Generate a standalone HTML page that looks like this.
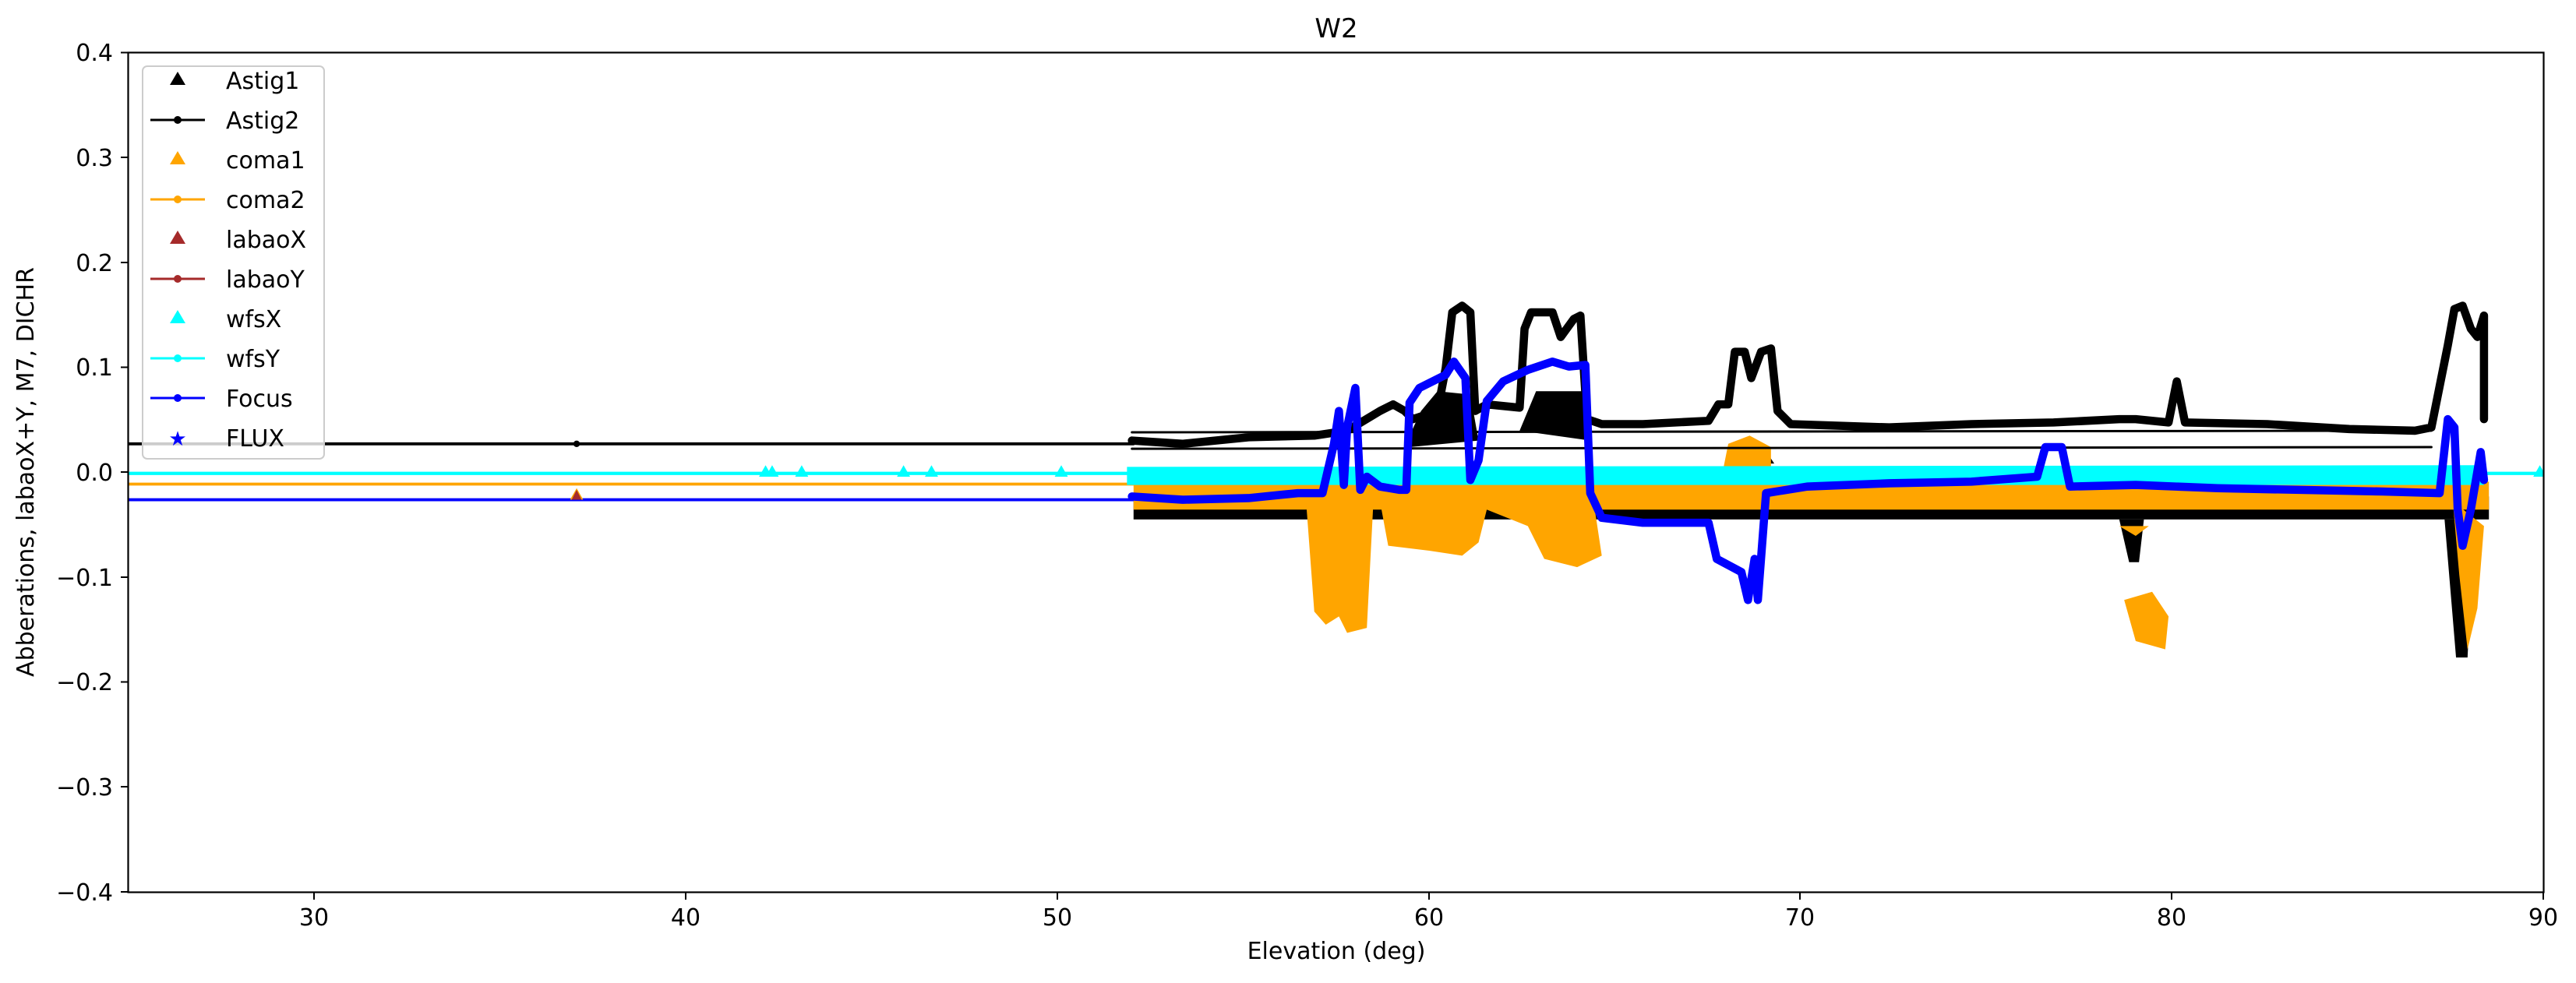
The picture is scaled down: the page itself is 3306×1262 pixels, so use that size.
<!DOCTYPE html>
<html><head><meta charset="utf-8"><style>body{margin:0;background:#fff}svg{display:block}text{font-family:"DejaVu Sans","Liberation Sans",sans-serif;fill:#000}</style></head>
<body>
<svg width="3306" height="1262" viewBox="0 0 3306 1262" xmlns="http://www.w3.org/2000/svg">
<rect width="3306" height="1262" fill="#fff"/>
<defs><clipPath id="c"><rect x="164" y="67" width="3101" height="1078"/></clipPath></defs>
<g clip-path="url(#c)">
<g transform="scale(2.1084,2.1104)" stroke-linejoin="round" stroke-linecap="round">
<line x1="78" y1="270" x2="690" y2="270" stroke="#000" stroke-width="1.8"/>
<circle cx="351" cy="270" r="2" fill="#000"/>
<line x1="78" y1="294.5" x2="690" y2="294.5" stroke="orange" stroke-width="1.8"/>
<line x1="78" y1="304" x2="690" y2="304" stroke="#00f" stroke-width="1.8"/>
<line x1="78" y1="288" x2="1548" y2="288" stroke="cyan" stroke-width="2"/>
<g fill="cyan"><path d="M466 283l4 7h-8zM470 283l4 7h-8zM488 283l4 7h-8zM550 283l4 7h-8zM567 283l4 7h-8zM646 283l4 7h-8zM1546 283l4 7h-8z"/></g>
<path d="M351 297l4 7h-8z" fill="orange"/>
<path d="M351 298l3 6h-6z" fill="#a52a2a"/>
<polygon fill="#000" points="690,304 1515,302 1515,316 690,316"/>
<polygon fill="orange" points="690,293 1515,293 1515,310 690,310"/>
<g fill="#000">
<polygon points="858,265 865,250 875,238 895,240 900,268 858,272"/>
<polygon points="925,262 935,238 965,238 968,268"/>
<polygon points="1065,282 1072,270 1080,282"/>
<polygon points="805,316 812,366 820,366 823,316"/>
<polygon points="1290,316 1296,342 1302,342 1305,316"/>
<polygon points="1488,316 1495,400 1502,400 1506,316"/>
</g>
<g fill="orange">
<polygon points="795,305 800,372 807,380 815,375 820,385 832,382 836,305"/>
<polygon points="840,305 845,332 870,335 890,338 900,330 905,310 930,320 940,340 960,345 975,338 970,305"/>
<polygon points="1048,290 1052,270 1065,265 1078,272 1078,290"/>
<polygon points="1293,365 1300,390 1318,395 1320,375 1310,360"/>
<polygon points="1290,320 1300,326 1308,320"/>
<polygon points="1493,305 1497,350 1502,395 1508,370 1512,320"/>
</g>
<polygon fill="cyan" points="686,284 1512,283 1512,295 686,295"/>
<line x1="689" y1="263" x2="1480" y2="262" stroke="#000" stroke-width="1.4"/>
<line x1="689" y1="273" x2="1480" y2="272" stroke="#000" stroke-width="1.4"/>
<polyline fill="none" stroke="#000" stroke-width="5" points="689,268 720,270 760,266 800,265 820,262 840,250 848,246 855,250 860,255 875,250 880,224 884,190 890,186 895,190 898,250 905,246 925,248 928,200 932,190 945,190 950,205 958,194 962,192 966,255 975,258 1000,258 1040,256 1046,246 1052,246 1056,214 1062,214 1066,230 1072,214 1078,212 1082,250 1090,258 1150,260 1200,258 1250,257 1290,255 1300,255 1320,257 1325,232 1330,257 1380,258 1430,261 1470,262 1480,260 1485,235 1490,210 1494,188 1499,186 1504,200 1508,205 1512,192 1512,255"/>
<polyline fill="none" stroke="#00f" stroke-width="5" points="689,302 720,304 760,303 790,300 805,300 812,270 815,250 818,295 820,260 825,236 828,298 832,290 840,296 852,298 856,298 858,245 864,236 880,228 885,220 892,230 895,292 900,280 905,244 915,232 930,225 945,220 955,223 965,222 968,300 975,315 1000,318 1040,318 1045,340 1060,348 1064,365 1068,340 1070,365 1075,300 1100,296 1150,294 1200,293 1240,290 1245,272 1255,272 1260,296 1300,295 1350,297 1400,298 1450,299 1485,300 1490,255 1494,260 1496,310 1499,332 1504,310 1510,275 1512,292"/>
</g>
</g>
<rect x="164.5" y="67.5" width="3100" height="1078" fill="none" stroke="#000" stroke-width="2.2"/>
<g stroke="#000" stroke-width="2">
<line x1="155" y1="67.5" x2="164.5" y2="67.5"/><line x1="155" y1="202" x2="164.5" y2="202"/><line x1="155" y1="337" x2="164.5" y2="337"/><line x1="155" y1="471.5" x2="164.5" y2="471.5"/><line x1="155" y1="606" x2="164.5" y2="606"/><line x1="155" y1="741" x2="164.5" y2="741"/><line x1="155" y1="875.5" x2="164.5" y2="875.5"/><line x1="155" y1="1010" x2="164.5" y2="1010"/><line x1="155" y1="1145" x2="164.5" y2="1145"/>
<line x1="403" y1="1145" x2="403" y2="1155"/><line x1="880" y1="1145" x2="880" y2="1155"/><line x1="1357" y1="1145" x2="1357" y2="1155"/><line x1="1834" y1="1145" x2="1834" y2="1155"/><line x1="2310" y1="1145" x2="2310" y2="1155"/><line x1="2787" y1="1145" x2="2787" y2="1155"/><line x1="3264" y1="1145" x2="3264" y2="1155"/>
</g>
<g font-size="30" text-anchor="end">
<text x="145" y="78">0.4</text><text x="145" y="213">0.3</text><text x="145" y="348">0.2</text><text x="145" y="482">0.1</text><text x="145" y="617">0.0</text><text x="145" y="752">−0.1</text><text x="145" y="886">−0.2</text><text x="145" y="1021">−0.3</text><text x="145" y="1156">−0.4</text>
</g>
<g font-size="30" text-anchor="middle">
<text x="403" y="1188">30</text><text x="880" y="1188">40</text><text x="1357" y="1188">50</text><text x="1834" y="1188">60</text><text x="2310" y="1188">70</text><text x="2787" y="1188">80</text><text x="3264" y="1188">90</text>
<text x="1715" y="1231">Elevation (deg)</text>
<text x="1715" y="48" font-size="34">W2</text>
<text transform="translate(43,606) rotate(-90)">Abberations, labaoX+Y, M7, DICHR</text>
</g>
<rect x="183" y="85" width="233" height="504" rx="6" fill="#fff" fill-opacity="0.8" stroke="#ccc" stroke-width="2"/>
<g font-size="30">
<path d="M228 92l10 17h-20z" fill="#000"/><text x="290" y="114">Astig1</text>
<line x1="193" y1="154" x2="263" y2="154" stroke="#000" stroke-width="3"/><circle cx="228" cy="154" r="5" fill="#000"/><text x="290" y="165">Astig2</text>
<path d="M228 194l10 17h-20z" fill="orange"/><text x="290" y="216">coma1</text>
<line x1="193" y1="256" x2="263" y2="256" stroke="orange" stroke-width="3"/><circle cx="228" cy="256" r="5" fill="orange"/><text x="290" y="267">coma2</text>
<path d="M228 296l10 17h-20z" fill="#a52a2a"/><text x="290" y="318">labaoX</text>
<line x1="193" y1="358" x2="263" y2="358" stroke="#a52a2a" stroke-width="3"/><circle cx="228" cy="358" r="5" fill="#a52a2a"/><text x="290" y="369">labaoY</text>
<path d="M228 398l10 17h-20z" fill="cyan"/><text x="290" y="420">wfsX</text>
<line x1="193" y1="460" x2="263" y2="460" stroke="cyan" stroke-width="3"/><circle cx="228" cy="460" r="5" fill="cyan"/><text x="290" y="471">wfsY</text>
<line x1="193" y1="511" x2="263" y2="511" stroke="#00f" stroke-width="3"/><circle cx="228" cy="511" r="5" fill="#00f"/><text x="290" y="522">Focus</text>
<text x="228" y="572" style="fill:#00f" text-anchor="middle" font-size="26">★</text><text x="290" y="573">FLUX</text>
</g>
</svg>
</body></html>
